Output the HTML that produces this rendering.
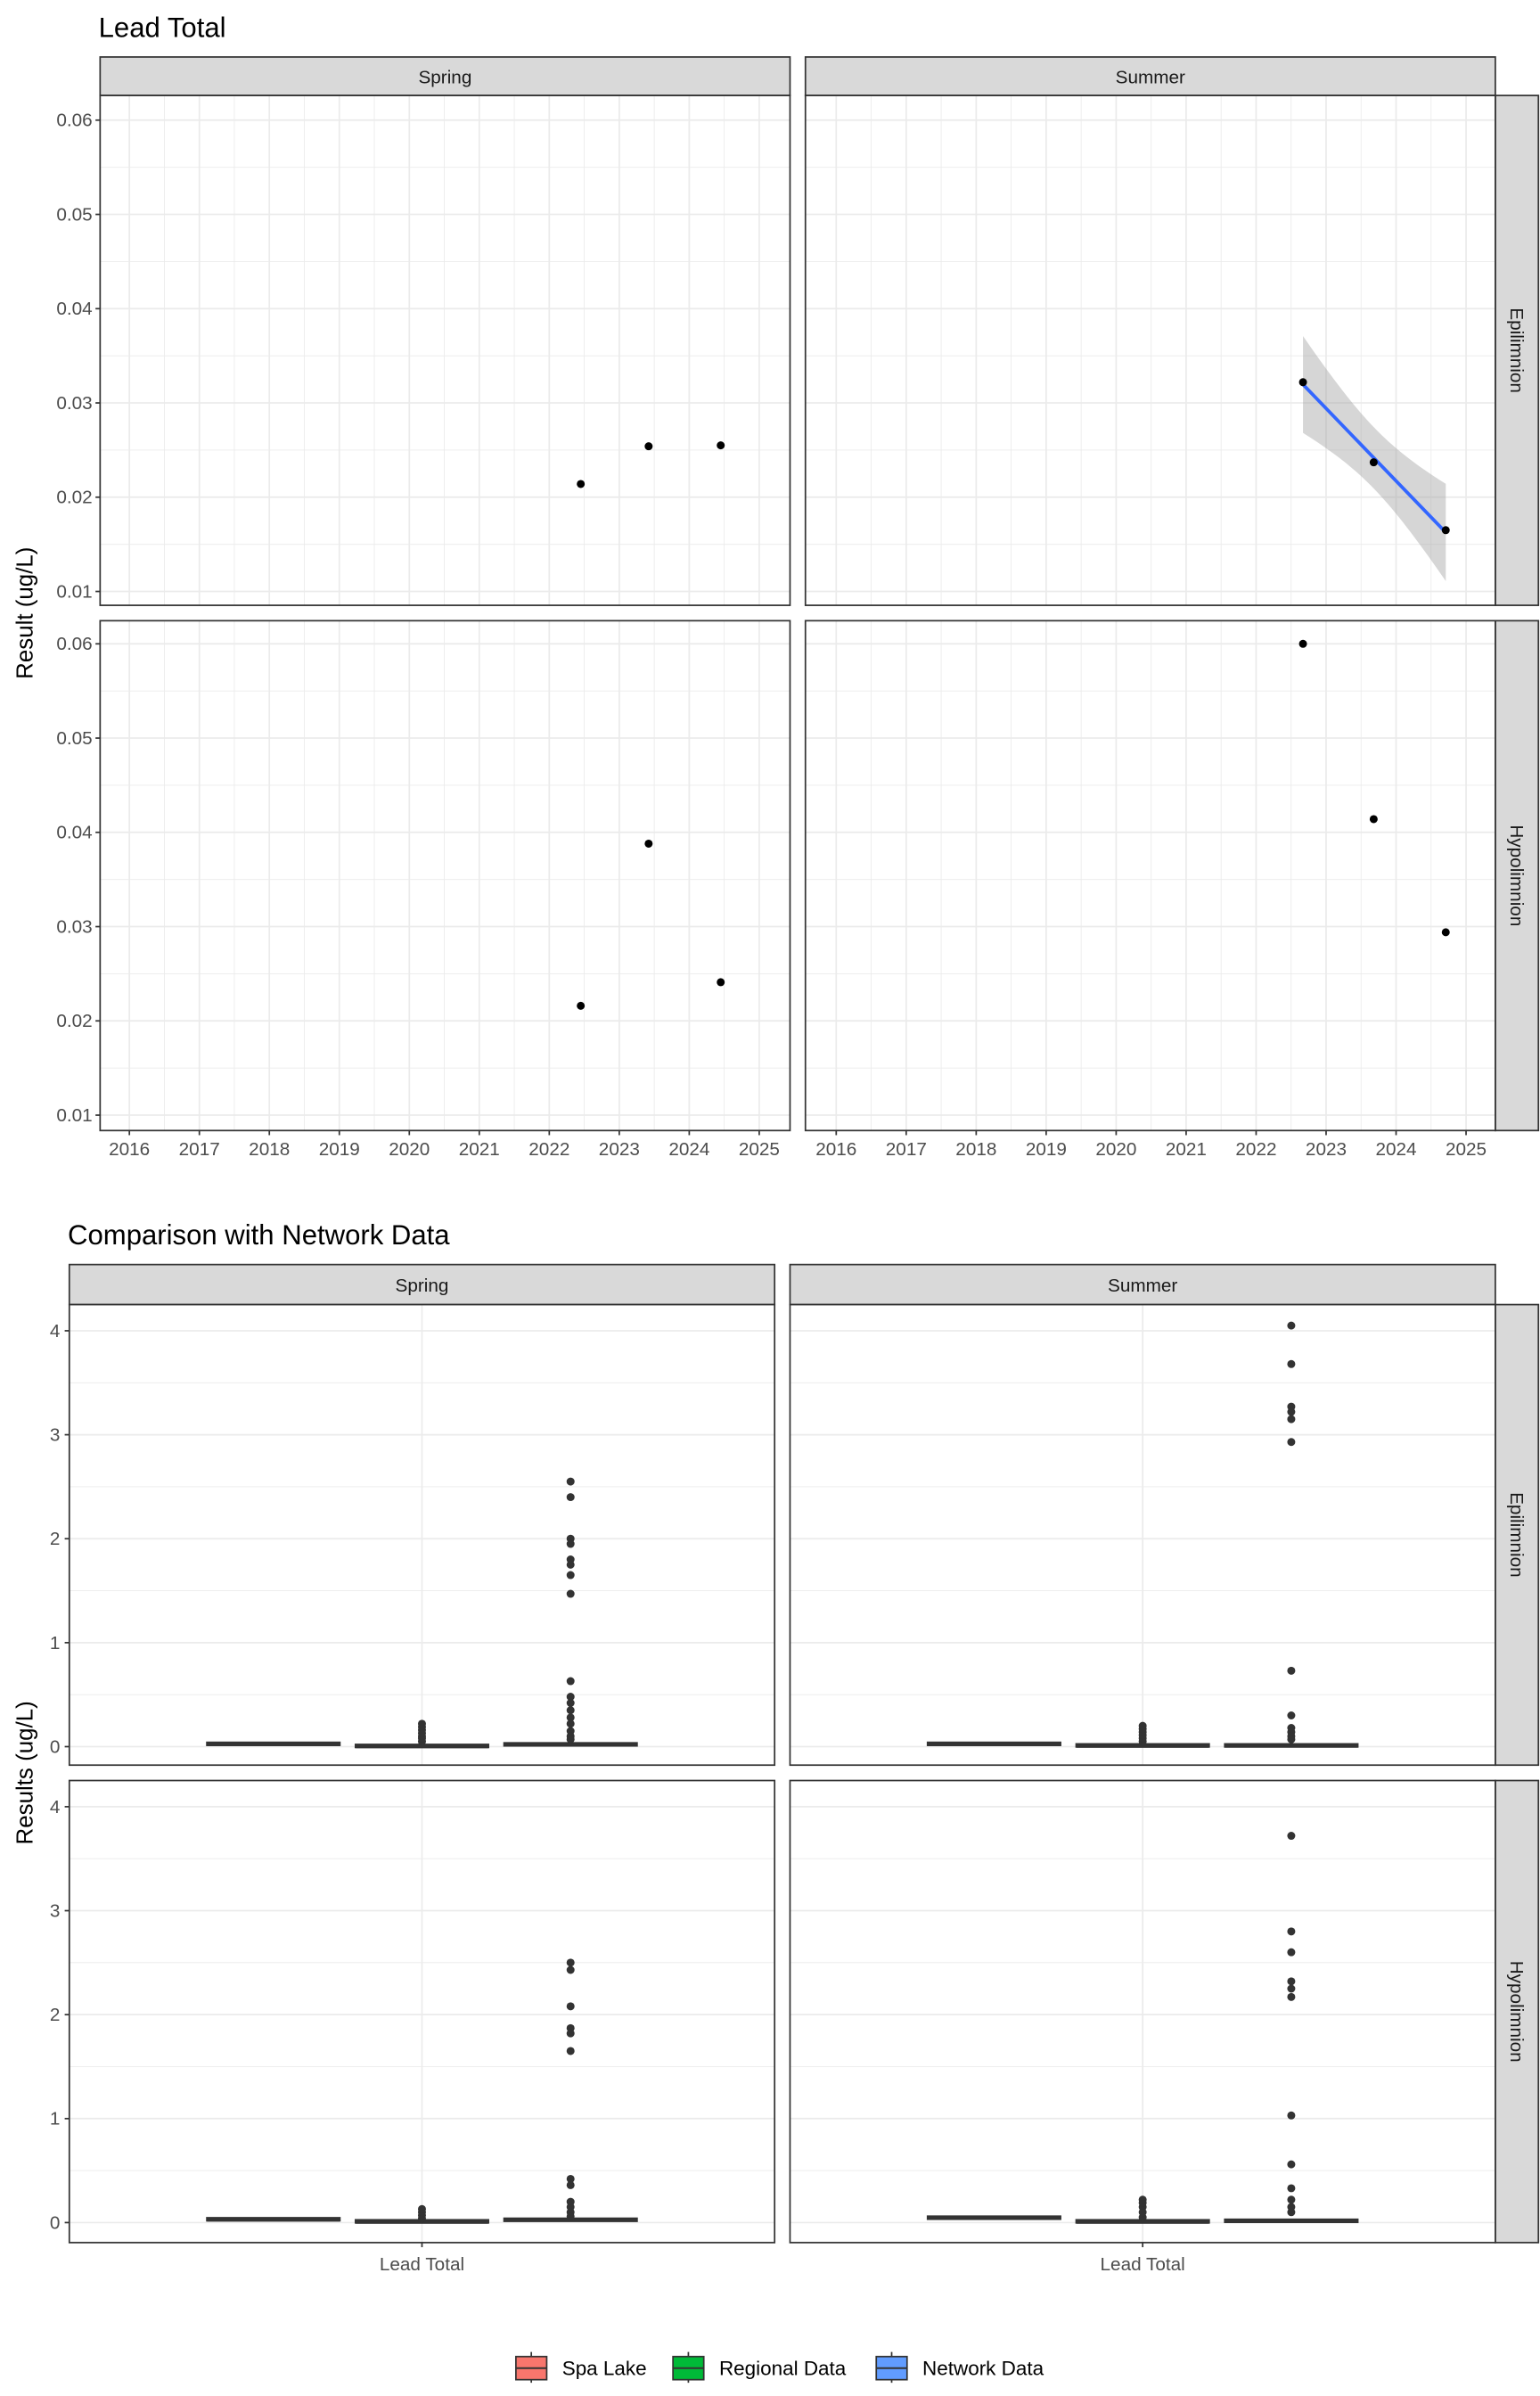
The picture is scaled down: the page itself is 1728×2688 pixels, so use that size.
<!DOCTYPE html>
<html><head><meta charset="utf-8"><style>
html,body{margin:0;padding:0;background:#fff}
svg{display:block;font-family:"Liberation Sans",Arial,sans-serif}
</style></head><body>
<svg id="chart" width="1728" height="2688" viewBox="0 0 1000 1555.6" xmlns="http://www.w3.org/2000/svg"></svg>
<script>
// ---- Data: Lead Total time series ----
const years = [2016,2017,2018,2019,2020,2021,2022,2023,2024,2025];
const yTicksTop = [0.01,0.02,0.03,0.04,0.05,0.06];
const springEpiX = [2022.45,2023.42,2024.45];
const springEpiY = [0.0214,0.0254,0.0255];
const summerEpiX = [2022.67,2023.68,2024.71];
const summerEpiY = [0.0322,0.0237,0.0165];
const springHypoX = [2022.45,2023.42,2024.45];
const springHypoY = [0.0216,0.0388,0.0241];
const summerHypoX = [2022.67,2023.68,2024.71];
const summerHypoY = [0.0600,0.0414,0.0294];
// ---- Data: comparison boxplots ----
const groups = ["Spa Lake","Regional Data","Network Data"];
const groupColors = ["#F8766D","#00BA38","#619CFF"];
const yTicksBot = [0,1,2,3,4];
const springEpiBox = [[0.015,0.02,0.025],[-0.005,0.0,0.004],[0.01,0.02,0.03]];
const summerEpiBox = [[0.015,0.02,0.025],[0.0,0.004,0.008],[0.0,0.005,0.012]];
const springHypoBox = [[0.02,0.025,0.03],[0.0,0.004,0.008],[0.015,0.025,0.035]];
const summerHypoBox = [[0.035,0.04,0.045],[0.0,0.004,0.008],[0.005,0.01,0.02]];
const springEpiOut = [[],[0.05,0.08,0.1,0.13,0.16,0.19,0.22],[2.55,2.4,2.0,1.95,1.8,1.75,1.65,1.47,0.63,0.48,0.42,0.35,0.28,0.22,0.15,0.1,0.07]];
const summerEpiOut = [[],[0.05,0.08,0.11,0.14,0.17,0.2],[4.05,3.68,3.27,3.22,3.15,2.93,0.73,0.3,0.18,0.14,0.1,0.07]];
const springHypoOut = [[],[0.04,0.07,0.1,0.13],[2.5,2.43,2.08,1.87,1.82,1.65,0.42,0.36,0.2,0.15,0.1,0.06]];
const summerHypoOut = [[],[0.05,0.1,0.15,0.19,0.22],[3.72,2.8,2.6,2.32,2.25,2.17,1.03,0.56,0.33,0.22,0.15,0.1]];

const NS="http://www.w3.org/2000/svg";
const svg=document.getElementById('chart');
function mk(tag,attrs,parent){const e=document.createElementNS(NS,tag);for(const k in attrs)e.setAttribute(k,attrs[k]);(parent||svg).appendChild(e);return e;}
function txt(s,attrs,parent){const e=mk('text',attrs,parent);e.textContent=s;return e;}

let t=txt('Lead Total',{x:64,y:24,'font-size':18,fill:'#000'});


t=txt('Comparison with Network Data',{x:44,y:808,'font-size':18,fill:'#000'});



function strip(x,y,w,h,label,vertical,name){
  const r=mk('rect',{x:x,y:y,width:w,height:h,fill:'#D9D9D9',stroke:'#333','stroke-width':1});
  
  
  let tt;
  if(vertical){tt=txt(label,{x:0,y:0,'font-size':12,fill:'#1a1a1a','text-anchor':'middle',transform:`translate(${x+w/2-4},${y+h/2}) rotate(90)`});}
  else tt=txt(label,{x:x+w/2,y:y+h/2+4.5,'font-size':12,fill:'#1a1a1a','text-anchor':'middle'});
  
  
}

// ---------- TOP CHART ----------
const topCols=[{x0:65,x1:513,yr0:84},{x0:523,x1:971,yr0:543}];
const topRows=[{y0:62,y1:393,top:78},{y0:403,y1:734,top:418}];
const yrW=(493-84)/9, unitTop=61.2/0.01;
function tx(c,v){return topCols[c].yr0+(v-2016)*yrW;}
function ty(r,v){return topRows[r].top+(0.06-v)*unitTop;}
const topData=[[[springEpiX,springEpiY],[summerEpiX,summerEpiY]],[[springHypoX,springHypoY],[summerHypoX,summerHypoY]]];
const seasons=['Spring','Summer'], layers=['Epilimnion','Hypolimnion'];
for(let c=0;c<2;c++){
  strip(topCols[c].x0,37,topCols[c].x1-topCols[c].x0,25,seasons[c],false,'top-strip-'+seasons[c].toLowerCase());
}
for(let r=0;r<2;r++){
  strip(971,topRows[r].y0,28,topRows[r].y1-topRows[r].y0,layers[r],true,'top-strip-'+layers[r].toLowerCase());
  for(let c=0;c<2;c++){
    const P=topCols[c],R=topRows[r];
    const g=mk('g',{});
    
    
    mk('rect',{x:P.x0,y:R.y0,width:P.x1-P.x0,height:R.y1-R.y0,fill:'#fff'},g);
    for(let i=0;i<years.length;i++){const xm=tx(c,years[i]+0.5);if(xm<P.x1)mk('line',{x1:xm,x2:xm,y1:R.y0,y2:R.y1,stroke:'#EBEBEB','stroke-width':0.5},g);}
    for(let i=0;i<yTicksTop.length;i++){const ym=ty(r,yTicksTop[i]+0.005);if(ym>R.y0)mk('line',{x1:P.x0,x2:P.x1,y1:ym,y2:ym,stroke:'#EBEBEB','stroke-width':0.5},g);}
    years.forEach(y=>{const xx=tx(c,y);mk('line',{x1:xx,x2:xx,y1:R.y0,y2:R.y1,stroke:'#EBEBEB','stroke-width':1},g);});
    yTicksTop.forEach(v=>{const yy=ty(r,v);mk('line',{x1:P.x0,x2:P.x1,y1:yy,y2:yy,stroke:'#EBEBEB','stroke-width':1},g);});
    const [xs,ys]=topData[r][c];
    if(r===0&&c===1){
      const n=xs.length,mx=xs.reduce((a,b)=>a+b)/n,my=ys.reduce((a,b)=>a+b)/n;
      let sxx=0,sxy=0;for(let i=0;i<n;i++){sxx+=(xs[i]-mx)**2;sxy+=(xs[i]-mx)*(ys[i]-my);}
      const b=sxy/sxx,a=my-b*mx;let sse=0;for(let i=0;i<n;i++)sse+=(ys[i]-a-b*xs[i])**2;
      const s=Math.sqrt(sse/(n-2)),tq=9.5;
      const up=[],lo=[];const N=40;
      for(let k=0;k<=N;k++){const xv=xs[0]+(xs[n-1]-xs[0])*k/N;const f=a+b*xv;const se=s*Math.sqrt(1/n+(xv-mx)**2/sxx);
        up.push(tx(c,xv)+','+ty(r,f+tq*se));lo.unshift(tx(c,xv)+','+ty(r,f-tq*se));}
      const band=mk('polygon',{points:up.concat(lo).join(' '),fill:'#999',opacity:0.4},g);
      
      
      const ln=mk('line',{x1:tx(c,xs[0]),y1:ty(r,a+b*xs[0]),x2:tx(c,xs[n-1]),y2:ty(r,a+b*xs[n-1]),stroke:'#3366FF','stroke-width':2.2},g);
      
      
    }
    for(let i=0;i<xs.length;i++){
      const p=mk('circle',{cx:tx(c,xs[i]),cy:ty(r,ys[i]),r:2.6,fill:'#000'},g);
      
      
    }
    mk('rect',{x:P.x0,y:R.y0,width:P.x1-P.x0,height:R.y1-R.y0,fill:'none',stroke:'#333','stroke-width':1},g);
    if(c===0){yTicksTop.forEach(v=>{const yy=ty(r,v);mk('line',{x1:P.x0-3,x2:P.x0,y1:yy,y2:yy,stroke:'#333'},g);
      const l=txt(v.toFixed(2),{x:P.x0-5,y:yy+4,'font-size':12,fill:'#4D4D4D','text-anchor':'end'},g);
      
      });}
    if(r===1){years.forEach(y=>{const xx=tx(c,y);mk('line',{x1:xx,x2:xx,y1:R.y1,y2:R.y1+3,stroke:'#333'},g);
      const l=txt(String(y),{x:xx,y:R.y1+16,'font-size':12,fill:'#4D4D4D','text-anchor':'middle'},g);
      
      });}
  }
}
t=txt('Result (ug/L)',{x:0,y:0,'font-size':15,fill:'#000','text-anchor':'middle',transform:'translate(21,398) rotate(-90)'});



// ---------- BOTTOM CHART ----------
const botCols=[{x0:45,x1:503,cx:274},{x0:513,x1:971,cx:742}];
const botRows=[{y0:847,y1:1146,zero:1134},{y0:1156,y1:1456,zero:1443}];
const unitBot=67.5, dodge=96.5, boxW=86;
function by(r,v){return botRows[r].zero-v*unitBot;}
const boxes=[[springEpiBox,summerEpiBox],[springHypoBox,summerHypoBox]];
const outs=[[springEpiOut,summerEpiOut],[springHypoOut,summerHypoOut]];
for(let c=0;c<2;c++) strip(botCols[c].x0,821,botCols[c].x1-botCols[c].x0,26,seasons[c],false,'bottom-strip-'+seasons[c].toLowerCase());
for(let r=0;r<2;r++){
  strip(971,botRows[r].y0,28,botRows[r].y1-botRows[r].y0,layers[r],true,'bottom-strip-'+layers[r].toLowerCase());
  for(let c=0;c<2;c++){
    const P=botCols[c],R=botRows[r];
    const g=mk('g',{});
    
    
    mk('rect',{x:P.x0,y:R.y0,width:P.x1-P.x0,height:R.y1-R.y0,fill:'#fff'},g);
    yTicksBot.forEach(v=>{const ym=by(r,v+0.5);if(ym>R.y0)mk('line',{x1:P.x0,x2:P.x1,y1:ym,y2:ym,stroke:'#EBEBEB','stroke-width':0.5},g);});
    yTicksBot.forEach(v=>{const yy=by(r,v);mk('line',{x1:P.x0,x2:P.x1,y1:yy,y2:yy,stroke:'#EBEBEB','stroke-width':1},g);});
    mk('line',{x1:P.cx,x2:P.cx,y1:R.y0,y2:R.y1,stroke:'#EBEBEB','stroke-width':1},g);
    for(let k=0;k<3;k++){
      const gx=P.cx+(k-1)*dodge;const q=boxes[r][c][k];
      const bg=mk('g',{},g);
      
      
      const ot=outs[r][c][k];
      const top=by(r,q[2]),bot=by(r,q[0]);
      mk('rect',{x:gx-boxW/2,y:Math.min(top,bot-1.6),width:boxW,height:Math.max(bot-top,1.6),fill:groupColors[k],stroke:'#333','stroke-width':1.4},bg);
      mk('line',{x1:gx-boxW/2,x2:gx+boxW/2,y1:by(r,q[1]),y2:by(r,q[1]),stroke:'#333','stroke-width':2},bg);
      ot.forEach(v=>{const p=mk('circle',{cx:gx,cy:by(r,v),r:2.6,fill:'#333'},bg);
        
        });
    }
    mk('rect',{x:P.x0,y:R.y0,width:P.x1-P.x0,height:R.y1-R.y0,fill:'none',stroke:'#333','stroke-width':1},g);
    if(c===0){yTicksBot.forEach(v=>{const yy=by(r,v);mk('line',{x1:P.x0-3,x2:P.x0,y1:yy,y2:yy,stroke:'#333'},g);
      const l=txt(String(v),{x:P.x0-6,y:yy+4,'font-size':12,fill:'#4D4D4D','text-anchor':'end'},g);
      
      });}
    if(r===1){mk('line',{x1:P.cx,x2:P.cx,y1:R.y1,y2:R.y1+3,stroke:'#333'},g);
      const l=txt('Lead Total',{x:P.cx,y:R.y1+18,'font-size':12,fill:'#4D4D4D','text-anchor':'middle'},g);
      
      }
  }
}
t=txt('Results (ug/L)',{x:0,y:0,'font-size':15,fill:'#000','text-anchor':'middle',transform:'translate(21,1151) rotate(-90)'});



const legX=[335,437,569];
for(let k=0;k<3;k++){
  const g=mk('g',{});
  
  
  mk('line',{x1:legX[k]+10,x2:legX[k]+10,y1:1527,y2:1547,stroke:'#333','stroke-width':1},g);
  mk('rect',{x:legX[k],y:1530,width:20,height:15,fill:groupColors[k],stroke:'#333','stroke-width':1},g);
  mk('line',{x1:legX[k],x2:legX[k]+20,y1:1537.5,y2:1537.5,stroke:'#333','stroke-width':1.2},g);
  txt(groups[k],{x:legX[k]+30,y:1542,'font-size':13,fill:'#000'},g);
}
</script>
</body></html>
